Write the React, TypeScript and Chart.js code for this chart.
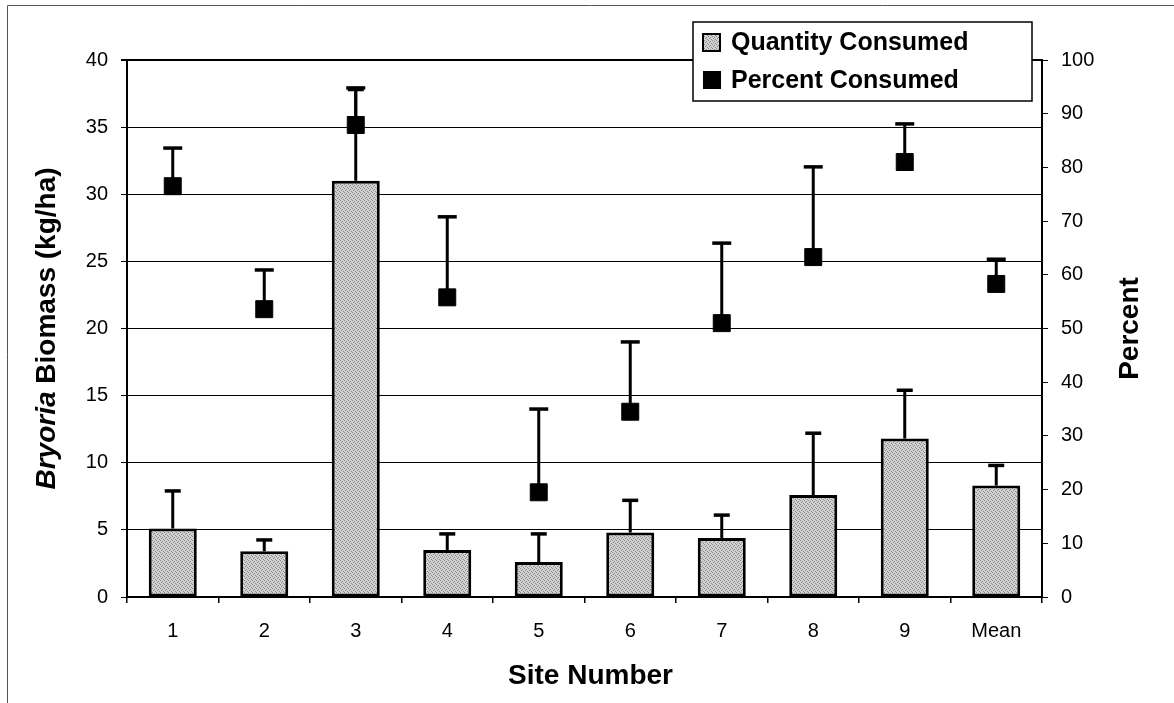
import React, { useEffect, useRef } from "react";
import { Chart, registerables } from "chart.js";

Chart.register(...registerables);

// ---- Data ----
const categories = ["1", "2", "3", "4", "5", "6", "7", "8", "9", "Mean"];
const quantityConsumed = [5.1, 3.4, 31.0, 3.5, 2.6, 4.8, 4.4, 7.6, 11.8, 8.3];
const quantityError = [2.8, 0.85, 6.8, 1.2, 2.1, 2.4, 1.7, 4.6, 3.6, 1.5];
const percentConsumed = [76.5, 53.6, 87.9, 55.8, 19.5, 34.5, 51.0, 63.3, 81.0, 58.3];
const percentError = [7.1, 7.3, 6.9, 15.0, 15.5, 13.0, 14.9, 16.8, 7.1, 4.6];
const leftAxis = { min: 0, max: 40, step: 5 };
const rightAxis = { min: 0, max: 100, step: 10 };
const seriesLabels = ["Quantity Consumed", "Percent Consumed"];
const xTitle = "Site Number";
const yTitleItalic = "Bryoria";
const yTitleRest = " Biomass (kg/ha)";
const y2Title = "Percent";

const FONT = "'Liberation Sans', Arial, Helvetica, sans-serif";

function makePattern(): CanvasPattern | string {
  const c = document.createElement("canvas");
  c.width = 4;
  c.height = 4;
  const g = c.getContext("2d");
  if (!g) return "#c4c4c4";
  g.fillStyle = "#d2d2d2";
  g.fillRect(0, 0, 4, 4);
  g.fillStyle = "#888888";
  [[0, 0], [2, 1], [1, 2], [3, 3]].forEach(([x, y]) => g.fillRect(x, y, 1, 1));
  return g.createPattern(c, "repeat") || "#c4c4c4";
}

const errorBarPlugin = {
  id: "errorBars",
  afterDatasetsDraw(chart: any) {
    const ctx: CanvasRenderingContext2D = chart.ctx;
    const specs = [
      { index: 0, values: quantityConsumed, errors: quantityError, axis: "y", cap: 16, width: 3 },
      { index: 1, values: percentConsumed, errors: percentError, axis: "y1", cap: 19, width: 3 },
    ];
    ctx.save();
    ctx.strokeStyle = "#000";
    ctx.lineCap = "butt";
    specs.forEach((spec) => {
      const meta = chart.getDatasetMeta(spec.index);
      const scale = chart.scales[spec.axis];
      meta.data.forEach((el: any, i: number) => {
        const x = el.x;
        const y0 = scale.getPixelForValue(spec.values[i]);
        const y1 = scale.getPixelForValue(spec.values[i] + spec.errors[i]);
        ctx.lineWidth = spec.width;
        ctx.beginPath();
        ctx.moveTo(x, y0);
        ctx.lineTo(x, y1);
        ctx.stroke();
        ctx.lineWidth = 3.5;
        ctx.beginPath();
        ctx.moveTo(x - spec.cap / 2, y1);
        ctx.lineTo(x + spec.cap / 2, y1);
        ctx.stroke();
      });
    });
    ctx.restore();
  },
};

const decorPlugin = {
  id: "decor",
  afterDraw(chart: any) {
    const ctx: CanvasRenderingContext2D = chart.ctx;
    const area = chart.chartArea;
    ctx.save();
    // outer frame of the scanned figure
    ctx.strokeStyle = "#555";
    ctx.lineWidth = 1;
    ctx.beginPath();
    ctx.moveTo(7.5, 703);
    ctx.lineTo(7.5, 5.5);
    ctx.lineTo(1174, 5.5);
    ctx.stroke();

    ctx.fillStyle = "#000";
    // x title
    ctx.font = `bold 28px ${FONT}`;
    ctx.textAlign = "center";
    ctx.textBaseline = "alphabetic";
    ctx.fillText(xTitle, (area.left + area.right) / 2 + 6, 684);

    // left y title (mixed italic)
    ctx.save();
    ctx.translate(55, (area.top + area.bottom) / 2);
    ctx.rotate(-Math.PI / 2);
    ctx.textAlign = "left";
    ctx.font = `italic bold 28px ${FONT}`;
    const w1 = ctx.measureText(yTitleItalic).width;
    ctx.font = `bold 28px ${FONT}`;
    const w2 = ctx.measureText(yTitleRest).width;
    const start = -(w1 + w2) / 2;
    ctx.font = `italic bold 28px ${FONT}`;
    ctx.fillText(yTitleItalic, start, 0);
    ctx.font = `bold 28px ${FONT}`;
    ctx.fillText(yTitleRest, start + w1, 0);
    ctx.restore();

    // right y title
    ctx.save();
    ctx.translate(1138, (area.top + area.bottom) / 2);
    ctx.rotate(-Math.PI / 2);
    ctx.textAlign = "center";
    ctx.font = `bold 28px ${FONT}`;
    ctx.fillText(y2Title, 0, 0);
    ctx.restore();

    // legend box
    const lx = 693, ly = 22, lw = 1032 - 693, lh = 101 - 22;
    ctx.fillStyle = "#fff";
    ctx.fillRect(lx, ly, lw, lh);
    ctx.strokeStyle = "#000";
    ctx.lineWidth = 1.5;
    ctx.strokeRect(lx, ly, lw, lh);
    const rows = [42, 80];
    // icon 1: patterned square
    ctx.fillStyle = chart.data.datasets[0].backgroundColor;
    ctx.fillRect(703, rows[0] - 8, 17, 17);
    ctx.lineWidth = 2;
    ctx.strokeRect(703, rows[0] - 8, 17, 17);
    // icon 2: black square
    ctx.fillStyle = "#000";
    ctx.fillRect(703, rows[1] - 9, 18, 18);
    ctx.font = `bold 25px ${FONT}`;
    ctx.textAlign = "left";
    ctx.textBaseline = "middle";
    ctx.fillText(seriesLabels[0], 731, rows[0] + 1);
    ctx.fillText(seriesLabels[1], 731, rows[1] + 1);
    ctx.restore();
  },
};

export default function App() {
  const ref = useRef<HTMLCanvasElement | null>(null);

  useEffect(() => {
    if (!ref.current) return;
    const pattern = makePattern();
    const tickFont = { family: FONT, size: 20 };
    const chart = new Chart(ref.current, {
      type: "bar",
      data: {
        labels: categories,
        datasets: [
          {
            type: "bar",
            label: seriesLabels[0],
            data: quantityConsumed,
            yAxisID: "y",
            backgroundColor: pattern as any,
            borderColor: "#000",
            borderWidth: 3,
            borderSkipped: false,
            barPercentage: 0.525,
            categoryPercentage: 1,
            order: 2,
          },
          {
            type: "line",
            label: seriesLabels[1],
            data: percentConsumed,
            yAxisID: "y1",
            showLine: false,
            pointStyle: "rect",
            pointRadius: 12,
            pointBackgroundColor: "#000",
            pointBorderColor: "#000",
            pointBorderWidth: 1,
            order: 1,
          } as any,
        ],
      },
      options: {
        responsive: false,
        animation: false,
        events: [],
        layout: { padding: { top: 60, left: 0, right: 0, bottom: 0 } },
        plugins: {
          legend: { display: false },
          tooltip: { enabled: false },
          title: { display: false },
        },
        scales: {
          x: {
            type: "category",
            offset: true,
            grid: {
              display: true,
              drawOnChartArea: false,
              drawTicks: true,
              tickLength: 6,
              color: "#000",
              lineWidth: 1.5,
              offset: true,
            },
            border: { display: true, color: "#000", width: 2 },
            ticks: { color: "#000", font: tickFont, padding: 16, maxRotation: 0, autoSkip: false },
            afterFit: (s: any) => {
              s.height = 106;
            },
          },
          y: {
            position: "left",
            min: leftAxis.min,
            max: leftAxis.max,
            ticks: { stepSize: leftAxis.step, color: "#000", font: tickFont, padding: 13 },
            grid: {
              color: "#000",
              lineWidth: (c: any) => (c.tick && c.tick.value === leftAxis.max ? 2 : 1),
              tickLength: 6,
              drawTicks: true,
            },
            border: { display: true, color: "#000", width: 2 },
            afterFit: (s: any) => {
              s.width = 127;
            },
          },
          y1: {
            position: "right",
            min: rightAxis.min,
            max: rightAxis.max,
            ticks: { stepSize: rightAxis.step, color: "#000", font: tickFont, padding: 13 },
            grid: { drawOnChartArea: false, color: "#000", lineWidth: 1, tickLength: 6, drawTicks: true },
            border: { display: true, color: "#000", width: 2 },
            afterFit: (s: any) => {
              s.width = 132;
            },
          },
        },
      },
      plugins: [errorBarPlugin, decorPlugin],
    });
    return () => chart.destroy();
  }, []);

  return (
    <div style={{ position: "absolute", left: 0, top: 0, width: 1174, height: 703, background: "#fff" }}>
      <canvas ref={ref} width={1174} height={703} style={{ display: "block", width: 1174, height: 703 }} />
    </div>
  );
}
